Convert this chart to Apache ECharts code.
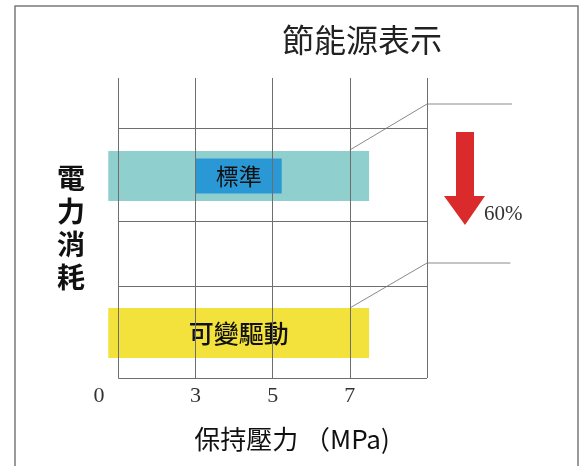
<!DOCTYPE html>
<html>
<head>
<meta charset="utf-8">
<script src="https://cdn.jsdelivr.net/npm/echarts@6/dist/echarts.min.js"></script>
<style>html,body{margin:0;padding:0;background:#fff}#c{width:584px;height:466px}</style>
</head>
<body>
<div id="c"></div>
<script>
// ---- data ----
const categories = ['標準', '可變驅動'];
const barStart = [-0.13, -0.13];
const barEnd = [3.25, 3.25];
const barLevel = [202, 45];
const tickPos = [-0.25, 1, 2, 3];
const tickLabels = ['0', '3', '5', '7'];
const gridX = [0, 1, 2, 3, 4];
const gridY = [0, 92, 157, 250];
const connectorA = [[3, 228], [4, 274], [5.1, 274]];
const connectorB = [[3, 70], [4, 115], [5.08, 115]];
const savingText = '60%';

const CJK = '"Noto Sans CJK TC","Noto Sans CJK SC",sans-serif';
const barColors = ['#8fd0cf', '#f3e23c'];
const labelStyles = [
  { fill: '#111', fontSize: 23, fontFamily: CJK, backgroundColor: '#2b98d6', padding: [6, 20, 6, 20], lineHeight: 23 },
  { fill: '#111', fontSize: 25, fontFamily: CJK, fontWeight: 500 }
];
const barHeight = 50;

const chart = echarts.init(document.getElementById('c'), null, { renderer: 'canvas' });

const hLines = gridY.map(y => [{ coord: [gridX[0], y] }, { coord: [gridX[gridX.length - 1], y] }]);
const vLines = gridX.map(x => ({ xAxis: x }));

chart.setOption({
  animation: false,
  backgroundColor: '#fff',
  title: {
    text: '節能源表示',
    left: 277, top: 19,
    textStyle: { fontFamily: CJK, fontSize: 32, fontWeight: 'normal', color: '#222' }
  },
  grid: { left: 99, right: 157, top: 78, bottom: 88 },
  xAxis: {
    type: 'value', min: -0.25, max: 4,
    axisLine: { show: false }, axisTick: { show: false }, splitLine: { show: false },
    axisLabel: {
      customValues: tickPos,
      formatter: v => { const i = tickPos.findIndex(p => Math.abs(p - v) < 1e-6); return i >= 0 ? tickLabels[i] : ''; },
      fontFamily: '"Liberation Serif",serif', fontSize: 22, color: '#333', margin: 7
    },
    name: '保持壓力 （MPa)',
    nameLocation: 'middle', nameGap: 48,
    nameTextStyle: { fontFamily: CJK, fontSize: 26, color: '#111', padding: [0, 0, 0, 58] }
  },
  yAxis: {
    type: 'value', min: 0, max: 300,
    axisLine: { show: false }, axisTick: { show: false }, splitLine: { show: false }, axisLabel: { show: false },
    name: '電\n力\n消\n耗',
    nameLocation: 'middle', nameRotate: 0, nameGap: 14,
    nameTextStyle: { fontFamily: CJK, fontSize: 28, fontWeight: 'bold', color: '#111', lineHeight: 33, align: 'right', verticalAlign: 'middle' }
  },
  series: [
    {
      type: 'custom', silent: true, clip: false,
      data: [0, 1],
      markLine: {
        silent: true, symbol: ['none', 'none'], label: { show: false },
        lineStyle: { color: '#6e6e6e', width: 1, type: 'solid' },
        data: vLines.concat(hLines)
      },
      renderItem: (params, api) => {
        const pts = [connectorA, connectorB][params.dataIndex].map(p => api.coord(p));
        return { type: 'polyline', shape: { points: pts }, style: { stroke: '#8a8a8a', lineWidth: 1, fill: null } };
      }
    },
    {
      type: 'custom',
      data: categories.map((c, i) => [barStart[i], barEnd[i], barLevel[i]]),
      renderItem: (params, api) => {
        const i = params.dataIndex;
        const s = api.coord([api.value(0), api.value(2)]);
        const e = api.coord([api.value(1), api.value(2)]);
        const h = api.size([0, barHeight])[1];
        return {
          type: 'rect',
          shape: { x: s[0], y: s[1] - h / 2, width: e[0] - s[0], height: h },
          style: { fill: barColors[i] },
          textContent: { style: Object.assign({ text: categories[i] }, labelStyles[i]) },
          textConfig: { position: 'inside' }
        };
      }
    }
  ],
  graphic: [
    { type: 'rect', shape: { x: 15, y: 6, width: 563, height: 480 }, style: { fill: 'none', stroke: '#7a7a7a', lineWidth: 1.5 }, silent: true },
    { type: 'polygon', shape: { points: [[456, 132], [474, 132], [474, 196], [485, 196], [465, 225], [444, 196], [456, 196]] }, style: { fill: '#da2a2c' }, silent: true },
    { type: 'text', left: 484, top: 204, style: { text: savingText, fontFamily: '"Liberation Serif",serif', fontSize: 21, fill: '#333' }, silent: true }
  ]
});
</script>
</body>
</html>
